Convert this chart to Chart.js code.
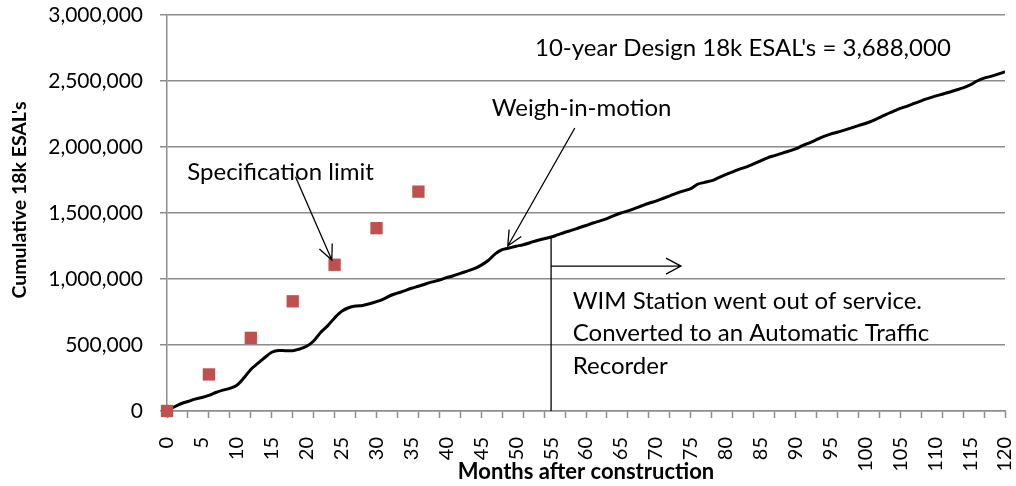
<!DOCTYPE html>
<html><head><meta charset="utf-8">
<script src="https://cdn.jsdelivr.net/npm/chart.js@4"></script>
<style>html,body{margin:0;padding:0;background:#fff;}#wrap{width:1016px;height:486px;}</style>
</head><body><div id="wrap"><canvas id="c" width="1016" height="486"></canvas></div>
<script>
// ---- data ----
const months = Array.from({length: 121}, (_, i) => i);
// cumulative 18k ESALs (thousands), measured monthly (Weigh-in-motion / ATR)
const esalThousands = [
  0, 30, 55, 72, 90, 102, 118, 140, 158, 172,
  195, 250, 315, 360, 405, 445, 458, 457, 457, 470,
  490, 530, 595, 645, 705, 755, 782, 795, 800, 812,
  828, 848, 875, 893, 910, 930, 945, 962, 978, 992,
  1010, 1025, 1043, 1060, 1078, 1105, 1140, 1190, 1222, 1235,
  1248, 1260, 1275, 1292, 1305, 1318, 1336, 1354, 1370, 1388,
  1405, 1424, 1440, 1458, 1480, 1500, 1516, 1535, 1555, 1574,
  1590, 1610, 1630, 1650, 1668, 1685, 1718, 1732, 1745, 1768,
  1790, 1812, 1832, 1850, 1872, 1895, 1918, 1935, 1952, 1968,
  1985, 2010, 2032, 2055, 2078, 2098, 2112, 2128, 2145, 2162,
  2178, 2198, 2222, 2248, 2270, 2292, 2310, 2330, 2350, 2368,
  2385, 2400, 2415, 2432, 2448, 2470, 2500, 2522, 2535, 2552,
  2570
];
const specMonths = [0, 6, 12, 18, 24, 30, 36];
const specValues = [0, 277000, 554000, 831000, 1108000, 1385000, 1662000];
const yTickValues = [0, 500000, 1000000, 1500000, 2000000, 2500000, 3000000];
const xLabelStep = 5;
const xTickMarkStep = 3;
const yTitle = "Cumulative 18k ESAL's";
const xTitle = "Months after construction";
const designText = "10-year Design 18k ESAL's = 3,688,000";
const wimLabel = "Weigh-in-motion";
const specLabel = "Specification limit";
const outOfServiceLines = ["WIM Station went out of service.", "Converted to an Automatic Traffic", "Recorder"];
const outOfServiceMonth = 55;

const FONT = "Lato, 'Open Sans', sans-serif";
const GRID = '#8c8c8c';

const annotationPlugin = {
  id: 'notes',
  afterDraw(chart) {
    const ctx = chart.ctx, x = chart.scales.x, y = chart.scales.y;
    const px = m => x.getPixelForValue(m), py = v => y.getPixelForValue(v);
    ctx.save();
    ctx.fillStyle = '#000';
    ctx.textBaseline = 'middle';
    ctx.textAlign = 'left';
    ctx.font = "24px " + FONT;
    ctx.fillText(designText, px(52.7), py(2750000));
    ctx.fillText(wimLabel, px(46.5), py(2295000));
    ctx.fillText(specLabel, px(2.9), py(1810000));
    const lineVals = [833000, 591000, 341000];
    outOfServiceLines.forEach((t, i) => ctx.fillText(t, px(58.1), py(lineVals[i])));

    function arrow(x1, y1, x2, y2, len, half) {
      ctx.beginPath();
      ctx.moveTo(x1, y1); ctx.lineTo(x2, y2);
      const a = Math.atan2(y2 - y1, x2 - x1);
      const bx = x2 - len * Math.cos(a), by = y2 - len * Math.sin(a);
      const nx = -Math.sin(a) * half, ny = Math.cos(a) * half;
      ctx.moveTo(bx + nx, by + ny); ctx.lineTo(x2, y2); ctx.lineTo(bx - nx, by - ny);
      ctx.stroke();
    }
    ctx.strokeStyle = '#000';
    ctx.lineWidth = 1.3;
    arrow(px(58.4), py(2144000), px(48.8), py(1250000), 15, 7);
    arrow(px(18.4), py(1775000), px(23.6), py(1144000), 15, 7);
    // vertical marker at out-of-service month
    const curveVal = esalThousands[outOfServiceMonth] * 1000;
    ctx.beginPath();
    ctx.moveTo(px(outOfServiceMonth), py(curveVal));
    ctx.lineTo(px(outOfServiceMonth), py(0));
    ctx.stroke();
    arrow(px(outOfServiceMonth), py(1098000), px(73.6), py(1098000), 15, 8);

    // y-axis title
    ctx.save();
    ctx.translate(20, 200);
    ctx.rotate(-Math.PI / 2);
    ctx.textAlign = 'center';
    ctx.font = "bold 19.5px " + FONT;
    ctx.fillText(yTitle, 0, 0);
    ctx.restore();
    ctx.restore();
  }
};

new Chart(document.getElementById('c'), {
  data: {
    datasets: [
      {
        type: 'scatter',
        label: 'Specification limit',
        data: specMonths.map((m, i) => ({x: m, y: specValues[i]})),
        backgroundColor: '#C0504D',
        borderWidth: 0,
        pointStyle: 'rect',
        pointRadius: 8.7,
        pointHoverRadius: 8.7,
        clip: false,
        order: 0
      },
      {
        type: 'line',
        label: 'Weigh-in-motion',
        data: months.map((m, i) => ({x: m, y: esalThousands[i] * 1000})),
        borderColor: '#000',
        borderWidth: 3,
        pointRadius: 0,
        cubicInterpolationMode: 'monotone',
        fill: false,
        order: 1
      }
    ]
  },
  options: {
    responsive: false,
    animation: false,
    devicePixelRatio: 1,
    layout: {padding: {top: 15, right: 11, left: 0, bottom: 0}},
    plugins: {legend: {display: false}, tooltip: {enabled: false}},
    scales: {
      x: {
        type: 'linear',
        min: 0, max: 120,
        afterFit(s) { s.height = 75; s.paddingLeft = 0; s.paddingRight = 0; },
        ticks: {
          stepSize: 1, maxTicksLimit: 500, autoSkip: false,
          minRotation: 90, maxRotation: 90, padding: 19,
          color: '#000', font: {family: FONT, size: 20},
          callback: v => (v % xLabelStep === 0 ? String(v) : '')
        },
        grid: {
          drawOnChartArea: false, drawTicks: true, tickLength: 7, tickWidth: 1.5,
          tickColor: c => (c.tick && c.tick.value % xTickMarkStep === 0) ? GRID : 'rgba(0,0,0,0)'
        },
        border: {display: true, color: GRID, width: 1.5},
        title: {display: true, text: xTitle, color: '#000', font: {family: FONT, size: 22, weight: 'bold'}, padding: {top: 0, bottom: 1}}
      },
      y: {
        min: 0, max: 3000000,
        afterFit(s) { s.width = 167; s.paddingTop = 0; s.paddingBottom = 0; },
        afterBuildTicks(s) { s.ticks = yTickValues.map(v => ({value: v})); },
        ticks: {
          color: '#000', font: {family: FONT, size: 21}, padding: 17,
          callback: v => Number(v).toLocaleString('en-US')
        },
        grid: {color: GRID, lineWidth: 1.5, tickLength: 7, tickColor: GRID},
        border: {display: true, color: GRID, width: 1.5}
      }
    }
  },
  plugins: [annotationPlugin]
});
</script>
</body></html>
